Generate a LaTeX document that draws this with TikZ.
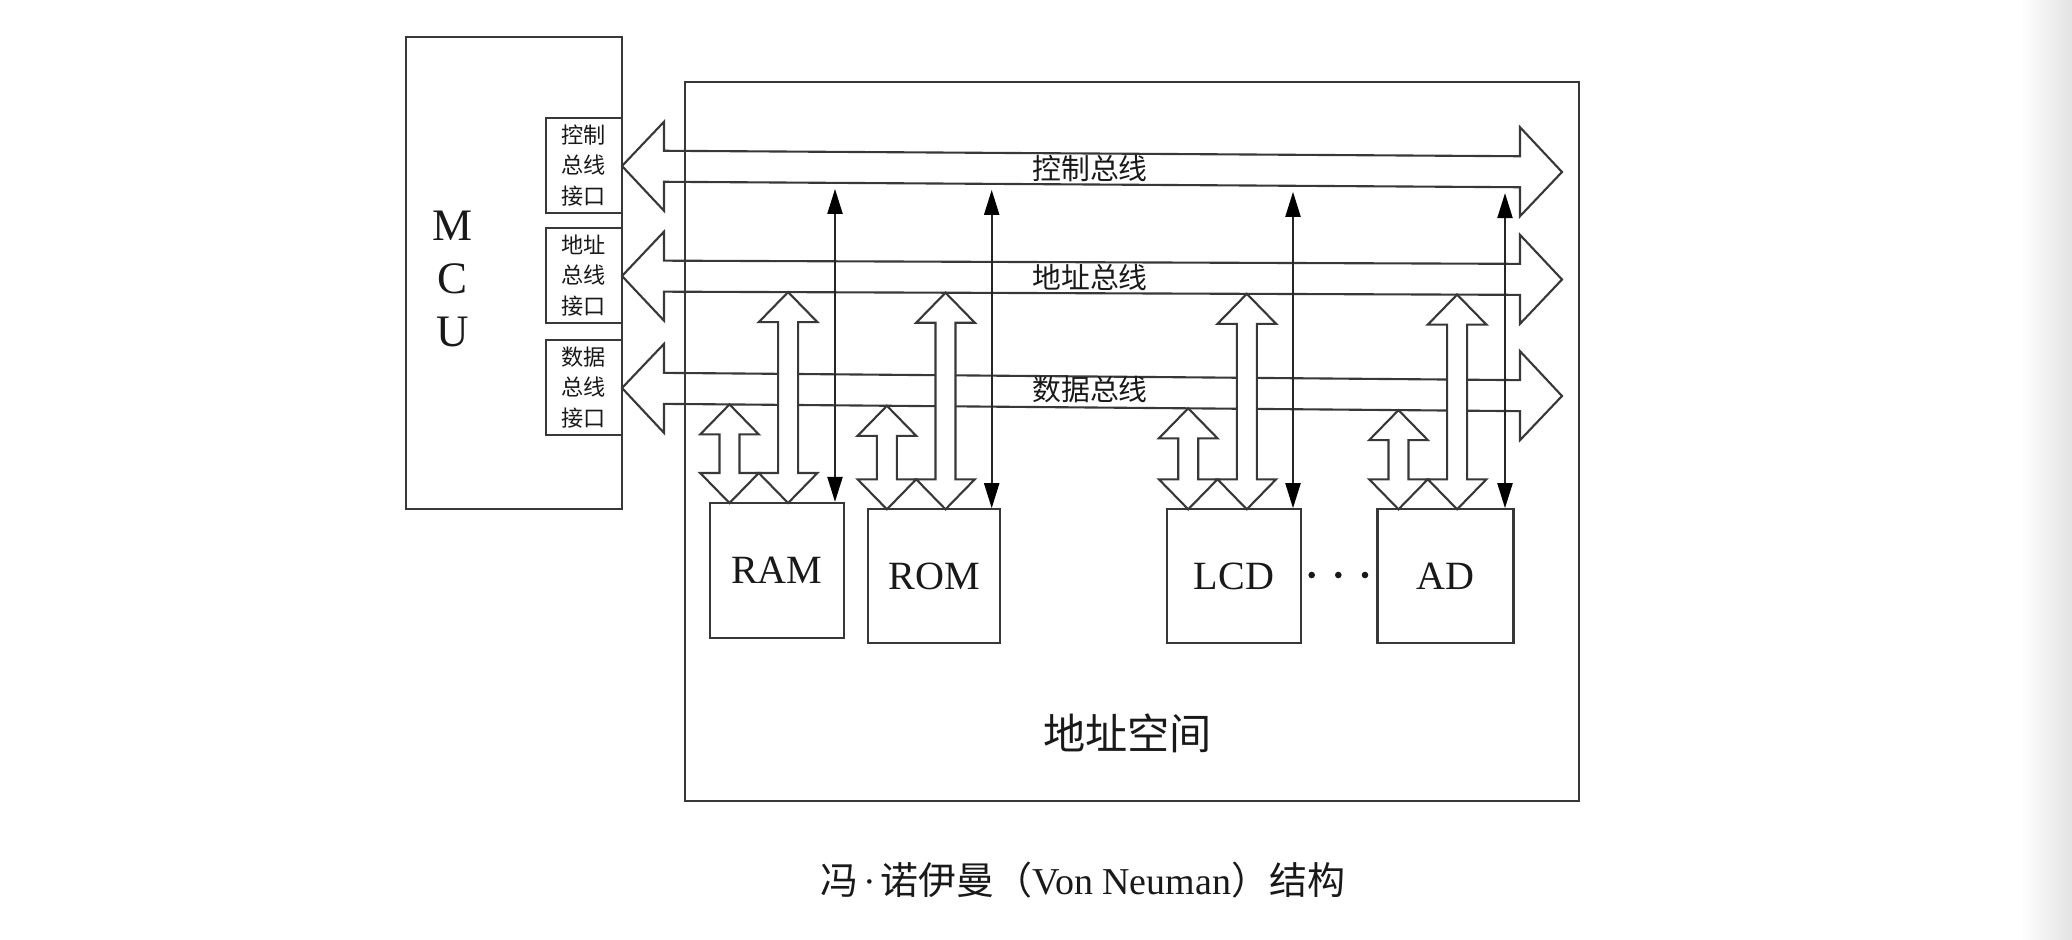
\documentclass[tikz,border=0pt]{standalone}
\usepackage{fontspec}
\setmainfont{Liberation Serif}
\newfontfamily\cjk{Noto Sans CJK SC}
\usetikzlibrary{arrows.meta}
\definecolor{linecol}{gray}{0.22}
\definecolor{txtcol}{gray}{0.1}
\newcommand\busarrow[2]{%
  \pgfmathsetmacro\bya{#1+42*(#2-#1)/940}%
  \pgfmathsetmacro\byb{#1+898*(#2-#1)/940}%
  \draw[busline] (622,#1) -- (664,\bya-44.5) -- (664,\bya-15.5) -- (1520,\byb-15.5) -- (1520,\byb-44.5) -- (1562,#2) -- (1520,\byb+44.5) -- (1520,\byb+15.5) -- (664,\bya+15.5) -- (664,\bya+44.5) -- cycle;}
\newcommand\fatarrow[3]{%
  \draw[fatarr] (#1,#2) -- ++(29.3,30) -- ++(-19.3,0) -- (#1+10,#3-30) -- ++(19.3,0) -- (#1,#3) -- ++(-29.3,-30) -- ++(19.3,0) -- (#1-10,#2+30) -- ++(-19.3,0) -- cycle;}
\begin{document}
\begin{tikzpicture}[x=0.01cm,y=-0.01cm,
  box/.style={draw=linecol,line width=0.6pt,inner sep=0pt},
  busline/.style={draw=linecol,line width=0.6pt,line join=miter},
  fatarr/.style={draw=linecol,fill=white,line width=0.6pt},
  thinarr/.style={draw=black!85,line width=0.6pt,{Triangle[length=0.25cm,width=0.15cm,color=black]}-{Triangle[length=0.25cm,width=0.15cm,color=black]}},
  txt/.style={text=txtcol,inner sep=0pt},
  ifbox/.style={box,minimum width=0.763cm,minimum height=0.947cm,align=center,text=txtcol,font=\cjk\fontsize{6.3}{8.7}\selectfont},
  devbox/.style={box,minimum height=1.34cm,text=txtcol,font=\fontsize{11.4}{13}\selectfont},
  buslabel/.style={txt,font=\cjk\fontsize{8.2}{9}\selectfont}]
\path[use as bounding box,fill=white] (0,0) rectangle (2072,939);
\shade[left color=white,right color=black!11] (2020,0) rectangle (2072,939);

% address space and MCU
\node[box,minimum width=8.94cm,minimum height=7.19cm] (space) at (1132,441.5) {};
\node[box,minimum width=2.16cm,minimum height=4.72cm] (mcu) at (514,273) {};
\node[txt,align=center,font=\fontsize{12.8}{15.1}\selectfont] (mcutxt) at (453,279) {M\\C\\U};

% interface boxes
\node[ifbox] (ctrlif) at (583.9,165.4) {控制\\总线\\接口};
\node[ifbox] (addrif) at (583.9,275.4) {地址\\总线\\接口};
\node[ifbox] (dataif) at (583.9,387.4) {数据\\总线\\接口};

% buses
\busarrow{166}{172}
\busarrow{276}{279.5}
\busarrow{388}{396}

% devices
\node[devbox,minimum width=1.336cm,minimum height=1.35cm] (ram) at (776.8,570.5) {RAM};
\node[devbox,minimum width=1.326cm] (rom) at (934,576.3) {ROM};
\node[devbox,minimum width=1.342cm] (lcd) at (1233.9,576.3) {LCD};
\node[devbox,minimum width=1.36cm] (ad) at (1445.5,576.3) {AD};
\fill[txtcol] (1311.7,575) circle (3.3) (1338.3,575) circle (3.3) (1365,575) circle (3.3);

% fat double arrows
\fatarrow{729.5}{404.4}{503}
\fatarrow{788.1}{292.1}{503}
\fatarrow{886.9}{405.8}{509.3}
\fatarrow{945.5}{292.7}{509.3}
\fatarrow{1188.2}{408.3}{509.3}
\fatarrow{1246.8}{293.8}{509.3}
\fatarrow{1398.5}{410.1}{509.3}
\fatarrow{1457.1}{294.6}{509.3}

% thin control arrows
\coordinate (ramT) at (835,188.9);
\coordinate (romT) at (991.7,189.9);
\coordinate (lcdT) at (1293,191.8);
\coordinate (adT) at (1505,193.1);
\draw[thinarr] (ramT) -- (ramT |- ram.north);
\draw[thinarr] (romT) -- (romT |- rom.north);
\draw[thinarr] (lcdT) -- (lcdT |- lcd.north);
\draw[thinarr] (adT) -- (adT |- ad.north);

% labels
\node[buslabel] (cbl) at (1090,168) {控制总线};
\node[buslabel] (abl) at (1090,277) {地址总线};
\node[buslabel] (dbl) at (1090,390) {数据总线};
\node[txt,font=\cjk\fontsize{12}{14}\selectfont] (spacelbl) at (1127.5,733) {地址空间};
\node[txt,font=\fontsize{10.8}{13}\selectfont] (caption) at (1083,880) {{\cjk 冯}\hspace{0.12em}·\hspace{0.12em}{\cjk 诺伊曼（}Von Neuman{\cjk ）结构}};
\end{tikzpicture}
\end{document}
